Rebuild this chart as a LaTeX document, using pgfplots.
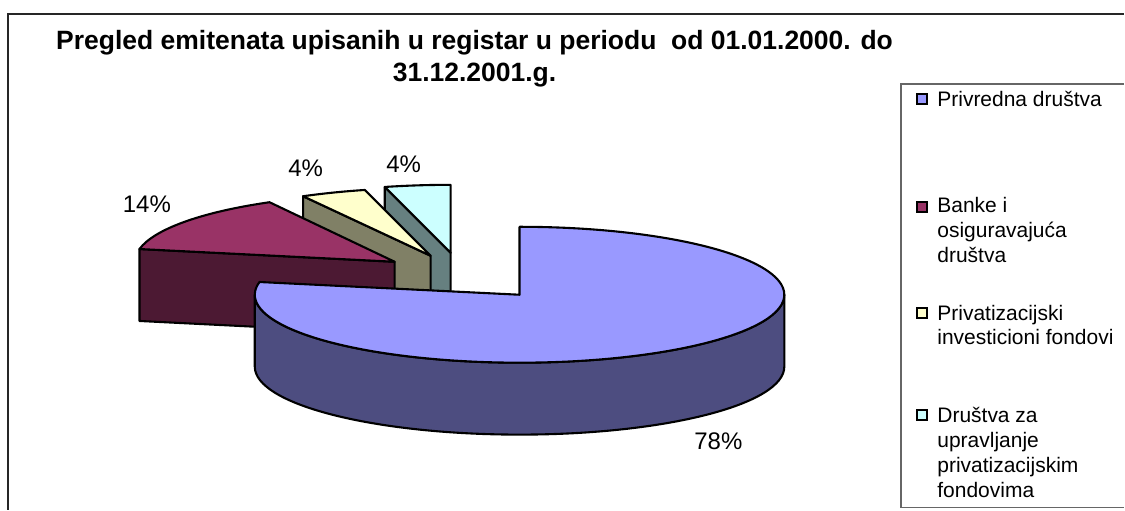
\documentclass[border=0pt]{standalone}
\usepackage{pgfplots}
\pgfplotsset{compat=1.18}
\usepackage{fontspec}
\setmainfont{Liberation Sans}
\definecolor{mainTop}{HTML}{9999FF}
\definecolor{mainSide}{HTML}{4D4D80}
\definecolor{bTop}{HTML}{993366}
\definecolor{bSide}{HTML}{4C1933}
\definecolor{yTop}{HTML}{FFFFCC}
\definecolor{ySide}{HTML}{808066}
\definecolor{cTop}{HTML}{CCFFFF}
\definecolor{cSide}{HTML}{668080}
\begin{document}
\begin{tikzpicture}
% shares (percent)
\def\vA{78}\def\vB{14}\def\vC{4}\def\vD{4}
\pgfmathsetmacro\tA{90}
\pgfmathsetmacro\tB{\tA-3.6*\vA}
\pgfmathsetmacro\tC{\tB-3.6*\vB}
\pgfmathsetmacro\tD{\tC-3.6*\vC}
\pgfmathsetmacro\tE{\tD-3.6*\vD}
\begin{axis}[x=1pt,y=1pt,xmin=0,xmax=1125,ymin=0,ymax=510,hide axis,clip=false]
\path (axis cs:0,0) rectangle (axis cs:1125,510);
% frame
\draw[line width=2pt,black!85] (axis cs:8,0) -- (axis cs:8,496) -- (axis cs:1125,496);
% title
\node[font=\bfseries\fontsize{26.5}{32}\selectfont,align=center] at (axis cs:475,451)
 {Pregled emitenata upisanih u registar u periodu\ \ od 01.01.2000. do\\31.12.2001.g.};
\begin{scope}[line width=2.1pt,draw=black,line join=round]
% Drustva za upravljanje (back-most)
\filldraw[fill=cSide] (axis cs:451,257) -- ++(0pt,-72pt) -- ++(\tD:265pt and 68pt) -- ++(0pt,72pt) -- cycle;
\filldraw[fill=cTop] (axis cs:451,257) -- ++(\tD:265pt and 68pt) arc[start angle=\tD,end angle=\tE,x radius=265pt,y radius=68pt] -- cycle;
% Privatizacijski fondovi
\filldraw[fill=ySide] (axis cs:431,254) -- ++(0pt,-72pt) -- ++(\tC:265pt and 68pt) -- ++(0pt,72pt) -- cycle;
\filldraw[fill=yTop] (axis cs:431,254) -- ++(\tC:265pt and 68pt) arc[start angle=\tC,end angle=\tD,x radius=265pt,y radius=68pt] -- cycle;
% Banke (exploded)
\filldraw[fill=bSide] (axis cs:395,248) -- ++(0pt,-72pt) -- ++(\tB:260pt and 68pt) -- ++(0pt,72pt) -- cycle;
\filldraw[fill=bTop] (axis cs:395,248) -- ++(\tB:260pt and 68pt) arc[start angle=\tB,end angle=\tC,x radius=260pt,y radius=68pt] -- cycle;
% Privredna drustva
\filldraw[fill=mainSide] (axis cs:520,215) ++(180:265pt and 68pt) arc[start angle=180,end angle=360,x radius=265pt,y radius=68pt] -- ++(0pt,-72pt) arc[start angle=360,end angle=180,x radius=265pt,y radius=68pt] -- cycle;
\filldraw[fill=mainTop] (axis cs:520,215) -- ++(\tA:265pt and 68pt) arc[start angle=\tA,end angle=\tB,x radius=265pt,y radius=68pt] -- cycle;
\end{scope}
% data labels
\begin{scope}[font=\fontsize{24}{28}\selectfont]
\node at (axis cs:147,306) {14\%};
\node at (axis cs:306,342) {4\%};
\node at (axis cs:404,346) {4\%};
\node at (axis cs:719,68) {78\%};
\end{scope}
% legend
\draw[line width=1.5pt,black!60] (axis cs:1125,426) -- (axis cs:902,426) -- (axis cs:902,2) -- (axis cs:1125,2);
\begin{scope}[line width=2.1pt]
\filldraw[fill=mainTop] (axis cs:918,406) rectangle (axis cs:928,416);
\filldraw[fill=bTop] (axis cs:918,298) rectangle (axis cs:928,308);
\filldraw[fill=yTop] (axis cs:918,192) rectangle (axis cs:928,202);
\filldraw[fill=cTop] (axis cs:918,90) rectangle (axis cs:928,100);
\end{scope}
\begin{scope}[every node/.style={anchor=base west,inner sep=0pt,font=\fontsize{21}{25}\selectfont}]
\node at (axis cs:938,403) {Privredna društva};
\node at (axis cs:938,297) {Banke i};
\node at (axis cs:938,272) {osiguravajuća};
\node at (axis cs:938,247) {društva};
\node at (axis cs:938,189) {Privatizacijski};
\node at (axis cs:938,165) {investicioni fondovi};
\node at (axis cs:938,87) {Društva za};
\node at (axis cs:938,62) {upravljanje};
\node at (axis cs:938,37) {privatizacijskim};
\node at (axis cs:938,12) {fondovima};
\end{scope}
\end{axis}
\end{tikzpicture}
\end{document}
